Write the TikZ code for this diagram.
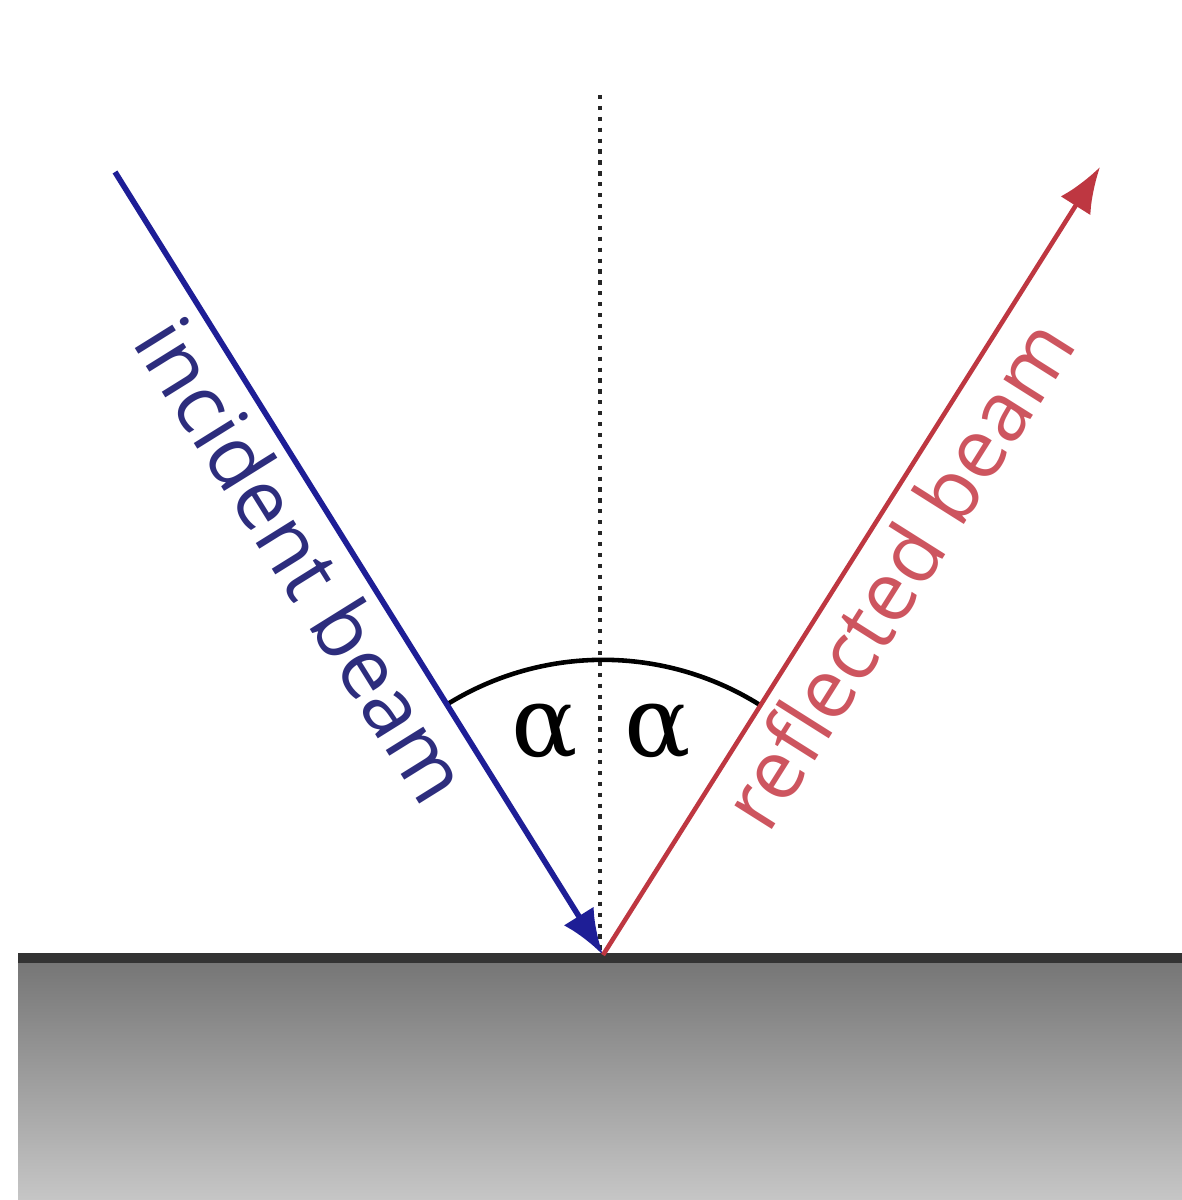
\documentclass[tikz,border=0pt]{standalone}
\usepackage{fontspec}
\setmainfont{Open Sans}
\newfontfamily\greekfont{DejaVu Serif}
\usetikzlibrary{arrows.meta}

\definecolor{incblue}{RGB}{30,30,150}
\definecolor{inctext}{RGB}{45,45,125}
\definecolor{refred}{RGB}{190,55,65}
\definecolor{reftext}{RGB}{205,85,95}

\begin{document}
\begin{tikzpicture}[
  x=.01cm,y=.01cm,
  beam/.style={line width=1.6pt,-{Latex[length=13pt,width=10pt]}},
  beamtext/.style={font=\fontsize{23.5}{28}\selectfont,sloped,below,inner sep=3pt},
  angletext/.style={font=\greekfont\fontsize{28}{34}\selectfont}
]
  \useasboundingbox (0,0) rectangle (1182,1200);

  % Mirror
  \shade[top color={rgb,255:red,118;green,118;blue,118},
         middle color={rgb,255:red,138;green,138;blue,138},
         bottom color={rgb,255:red,198;green,198;blue,198}] (18,0) rectangle (1182,238);
  \draw[line width=2.8pt,black!80] (18,242) -- (1182,242);

  \coordinate (hit) at (603,245);
  \coordinate (source) at (115,1028);
  \coordinate (target) at (1100,1033);
  \coordinate (normal top) at (600,1105);
  \coordinate (normal bottom) at (600,245);

  % Normal
  \draw[black!85,line width=1pt,dash pattern=on 1.2pt off 1.9pt] (normal top) -- (normal bottom);

  % Angle
  \draw[line width=1.3pt] (hit) ++(122:2.95cm) arc[start angle=122,end angle=58,radius=2.95cm];
  \node[angletext] (alpha left) at (545,468) {α};
  \node[angletext] (alpha right) at (658,468) {α};

  % Beams
  \draw[beam,incblue] (source) -- (hit)
    node[beamtext,text=inctext,pos=.465] (incident label) {incident beam};
  \draw[beam,refred,line width=1.3pt] (hit) -- (target)
    node[beamtext,text=reftext,pos=.515] (reflected label) {reflected beam};
\end{tikzpicture}
\end{document}
